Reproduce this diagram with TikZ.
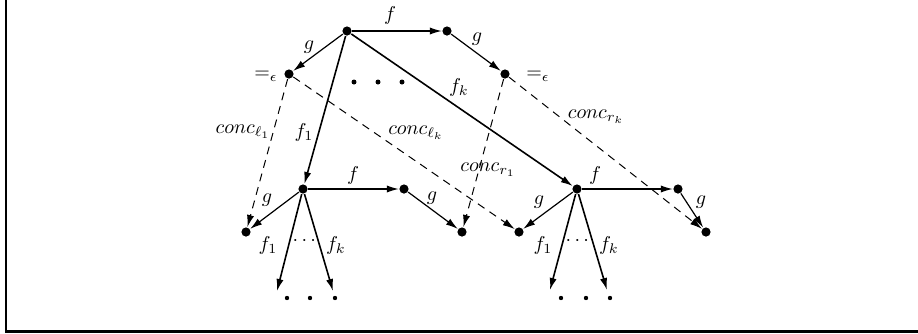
\documentclass[tikz,border=0pt]{standalone}
\usepackage{amsmath}
\usepackage{amssymb}
\usetikzlibrary{arrows.meta}

\begin{document}
\begin{tikzpicture}[x=0.5pt, y=-0.5pt, semithick,
		dot/.style={circle, fill, inner sep=0pt, minimum size=4.6pt},
		smalldot/.style={circle, fill, inner sep=0pt, minimum size=2.5pt},
		arr/.style={-{Latex[length=6pt,width=3.6pt]}},
		conc/.style={line width=0.5pt, dash pattern=on 4pt off 3pt, -{Latex[length=6pt,width=3.6pt]}}]
		
		\useasboundingbox (0,0) rectangle (918,333);
		
		% frame
		\draw[line width=0.9pt] (5.8,0) -- (5.8,331.7);
		\draw[line width=1.6pt] (5,331.7) -- (918,331.7);
		
		% top tree
		\node[dot] (root) at (347,31) {};
		\node[dot] (rootf) at (447,31) {};
		\node[dot] (lg) at (289,74) {};
		\node[dot] (rg) at (505,74) {};
		\node (lgeq) at (266,76) {$=_\epsilon$};
		\node (rgeq) at (538,76) {$=_\epsilon$};
		\foreach \x [count=\i] in {354,378,402}
			\node[smalldot] (topdots-\i) at (\x,82) {};
		
		% left subtree
		\node[dot] (L) at (303,189) {};
		\node[dot] (Lf) at (404,189) {};
		\node[dot] (Lg) at (246,232) {};
		\node[dot] (Lfg) at (462,232) {};
		\coordinate (La) at (277,291);
		\coordinate (Lb) at (333,291);
		\foreach \x [count=\i] in {287,310,335}
			\node[smalldot, minimum size=2.2pt] (Ldots-\i) at (\x,298) {};
		
		% right subtree
		\node[dot] (R) at (577,189) {};
		\node[dot] (Rf) at (678,189) {};
		\node[dot] (Rg) at (519,232) {};
		\node[dot] (Rfg) at (706,232) {};
		\coordinate (Ra) at (550,290);
		\coordinate (Rb) at (607,290);
		\foreach \x [count=\i] in {561,586,610}
			\node[smalldot, minimum size=2.2pt] (Rdots-\i) at (\x,298) {};
		
		% edges
		\draw[arr] (root) -- (rootf);
		\draw[arr] (root) -- (lg);
		\draw[arr] (rootf) -- (rg);
		\draw[arr, thick] (root) -- (L);
		\draw[arr, thick] (root) -- (R);
		
		\draw[arr] (L) -- (Lf);
		\draw[arr] (L) -- (Lg);
		\draw[arr] (Lf) -- (Lfg);
		\draw[arr, thick] (L) -- (La);
		\draw[arr, thick] (L) -- (Lb);
		
		\draw[arr] (R) -- (Rf);
		\draw[arr] (R) -- (Rg);
		\draw[arr] (Rf) -- (Rfg);
		\draw[arr, thick] (R) -- (Ra);
		\draw[arr, thick] (R) -- (Rb);
		
		% concatenations
		\draw[conc] (lg) -- (Lg);
		\draw[conc] (lg) -- (Rg);
		\draw[conc] (rg) -- (Lfg);
		\draw[conc] (rg) -- (Rfg);
		
		% labels
		\node (t-f) at (390,15) {$f$};
		\node (t-g) at (309,47) {$g$};
		\node (t-fg) at (477,39) {$g$};
		\node (t-f1) at (304,132) {$f_1$};
		\node (t-fk) at (459,87) {$f_k$};
		\node (c-l1) at (243,132) {$conc_{\ell_1}$};
		\node (c-lk) at (416,133) {$conc_{\ell_k}$};
		\node (c-r1) at (488,170) {$conc_{r_1}$};
		\node (c-rk) at (596,117) {$conc_{r_k}$};
		
		\node (L-f) at (353,175) {$f$};
		\node (L-g) at (267,200) {$g$};
		\node (L-fg) at (432,198) {$g$};
		\node (L-f1) at (268,245) {$f_1$};
		\node (L-dots) at (306,241) {$\cdots$};
		\node (L-fk) at (336,245) {$f_k$};
		
		\node (R-f) at (595,175) {$f$};
		\node (R-g) at (539,202) {$g$};
		\node (R-fg) at (701,202) {$g$};
		\node (R-f1) at (543,245) {$f_1$};
		\node (R-dots) at (579,241) {$\cdots$};
		\node (R-fk) at (609,245) {$f_k$};
		
	\end{tikzpicture}
\end{document}
